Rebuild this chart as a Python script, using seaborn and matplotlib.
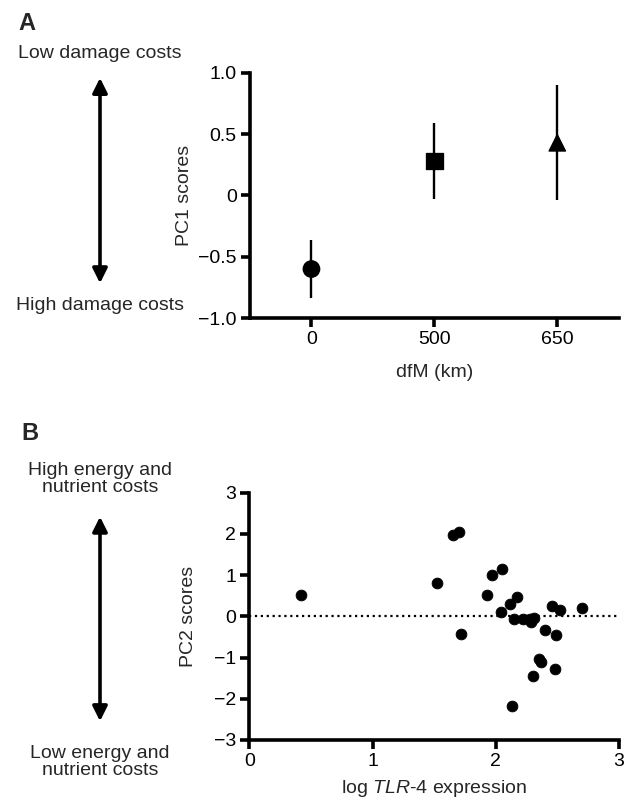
import matplotlib
matplotlib.use("Agg")
import matplotlib.pyplot as plt
from matplotlib.patches import FancyArrowPatch
import seaborn as sns
import pandas as pd

sns.set_theme(style="ticks")
plt.rcParams['font.family'] = ['Liberation Sans', 'DejaVu Sans']
plt.rcParams['mathtext.fontset'] = 'custom'
plt.rcParams['mathtext.rm'] = 'Liberation Sans'
plt.rcParams['mathtext.it'] = 'Liberation Sans:italic'

# panel A: PC1 scores by distance from mainland
dist_labels = ["0", "500", "650"]
pc1_mean = [-0.60, 0.28, 0.43]
pc1_err = [0.24, 0.31, 0.47]
marker_map = {"0": "o", "500": "s", "650": "^"}

# panel B: PC2 scores vs log TLR-4 expression
tlr4_log = [0.42, 1.52, 1.65, 1.70, 1.72, 1.93, 1.97, 2.05, 2.04, 2.12, 2.17,
            2.15, 2.22, 2.28, 2.29, 2.31, 2.13, 2.30, 2.35, 2.37, 2.40, 2.46,
            2.52, 2.49, 2.48, 2.70]
pc2_score = [0.53, 0.80, 1.97, 2.05, -0.44, 0.51, 1.01, 1.15, 0.10, 0.29, 0.47,
             -0.06, -0.06, -0.06, -0.14, -0.05, -2.18, -1.45, -1.03, -1.11, -0.34,
             0.24, 0.16, -0.46, -1.27, 0.21]

df_a = pd.DataFrame({"dist": dist_labels, "pc1": pc1_mean, "err": pc1_err})
df_b = pd.DataFrame({"tlr4": tlr4_log, "pc2": pc2_score})

fig = plt.figure(figsize=(6.25, 8.08), dpi=100)
ax1 = fig.add_axes([0.400, 0.6064, 0.590, 0.3033])
ax2 = fig.add_axes([0.399, 0.0842, 0.591, 0.3060])

fs = 14

# --- A ---
ax1.vlines(df_a["dist"], df_a["pc1"] - df_a["err"], df_a["pc1"] + df_a["err"],
           color="black", lw=1.7, zorder=2)
sns.scatterplot(data=df_a, x="dist", y="pc1", style="dist", markers=marker_map,
                color="black", s=140, edgecolor="black", legend=False, ax=ax1, zorder=3)
ax1.set_xlim(-0.5, 2.5)
ax1.set_ylim(-1.0, 1.0)
ax1.set_yticks([-1.0, -0.5, 0, 0.5, 1.0])
ax1.set_yticklabels(["\u22121.0", "\u22120.5", "0", "0.5", "1.0"])
ax1.set_xlabel("dfM (km)", fontsize=fs, labelpad=11)
ax1.set_ylabel("PC1 scores", fontsize=fs, labelpad=4)

# --- B ---
ax2.plot([0, 3], [0, 0], color="black", ls=":", lw=1.6, zorder=1)
sns.scatterplot(data=df_b, x="tlr4", y="pc2", color="black", s=60,
                edgecolor="black", legend=False, ax=ax2, zorder=3)
ax2.set_xlim(0, 3)
ax2.set_ylim(-3, 3)
ax2.set_xticks([0, 1, 2, 3])
ax2.set_yticks([-3, -2, -1, 0, 1, 2, 3])
ax2.set_yticklabels(["\u22123", "\u22122", "\u22121", "0", "1", "2", "3"])
ax2.set_xlabel("log $\\it{TLR}$-$\\it{4}$ expression", fontsize=fs, labelpad=6)
ax2.set_ylabel("PC2 scores", fontsize=fs, labelpad=12)

for ax in (ax1, ax2):
    sns.despine(ax=ax)
    for s in ("left", "bottom"):
        ax.spines[s].set_linewidth(2.6)
        ax.spines[s].set_color("black")
        ax.spines[s].set_capstyle("projecting")
    ax.tick_params(axis="both", which="major", direction="out", length=6.5, width=2.6,
                   labelsize=fs, colors="black", pad=3)

# side annotations
fig.text(0.030, 0.9715, "A", fontsize=17, fontweight="bold", ha="left", va="center")
fig.text(0.16, 0.934, "Low damage costs", fontsize=fs, ha="center", va="center")
fig.text(0.16, 0.6225, "High damage costs", fontsize=fs, ha="center", va="center")
fig.add_artist(FancyArrowPatch(
    (0.16, 0.907), (0.16, 0.646), transform=fig.transFigure,
    arrowstyle="<|-|>", mutation_scale=22, lw=2.6, color="black"))

fig.text(0.034, 0.464, "B", fontsize=17, fontweight="bold", ha="left", va="center")
fig.text(0.16, 0.407, "High energy and\nnutrient costs", fontsize=fs, ha="center",
         va="center", linespacing=1.05)
fig.text(0.16, 0.057, "Low energy and\nnutrient costs", fontsize=fs, ha="center",
         va="center", linespacing=1.05)
fig.add_artist(FancyArrowPatch(
    (0.16, 0.364), (0.16, 0.104), transform=fig.transFigure,
    arrowstyle="<|-|>", mutation_scale=22, lw=2.6, color="black"))

fig.savefig("out.png", dpi=100)
